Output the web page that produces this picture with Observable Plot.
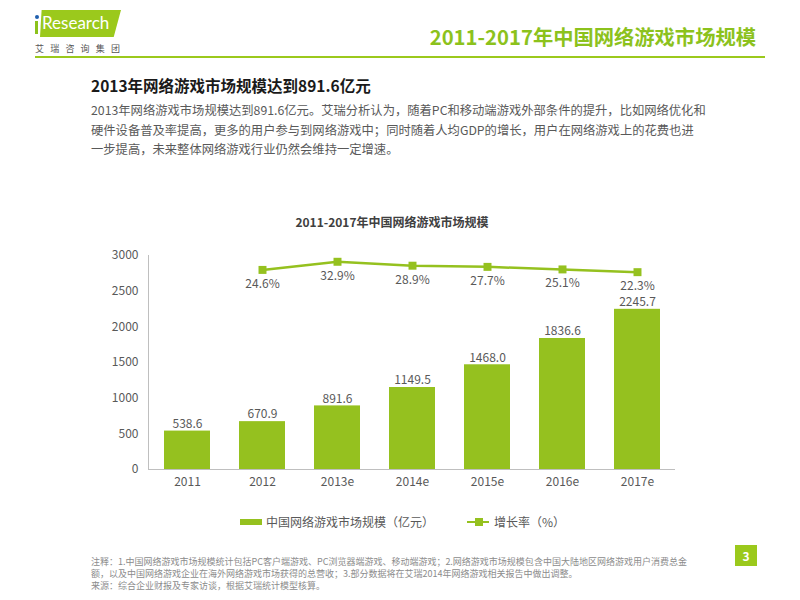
<!DOCTYPE html>
<html><head><meta charset="utf-8">
<script src="https://cdn.jsdelivr.net/npm/d3@7"></script>
<script src="https://cdn.jsdelivr.net/npm/@observablehq/plot@0.6"></script>
<style>
body{margin:0;width:800px;height:600px;position:relative;background:#fff;font-family:"Noto Sans CJK SC","Noto Sans",sans-serif;overflow:hidden}
.abs{position:absolute;white-space:nowrap}
.fn{position:absolute;left:91px;font-size:9px;color:#8c8c8c;line-height:12px;height:12px;white-space:nowrap}
</style></head><body>
<!-- logo -->
<div class="abs" style="left:40px;top:10px;width:81px;height:27px;background:#9bc91c;clip-path:polygon(2% 0,100% 0,91% 100%,0 100%)"></div>
<div class="abs" style="left:35px;top:21px;width:3px;height:13px;background:#8cc21c"></div>
<div class="abs" style="left:34.5px;top:15px;width:4px;height:4px;border-radius:50%;background:#1f5fae"></div>
<div class="abs" style="left:42px;top:9px;font-family:'Lato','Noto Sans',sans-serif;font-size:17px;color:#fff;line-height:28px">Research</div>
<div class="abs" style="left:35px;top:42px;font-size:9px;color:#555;letter-spacing:6.2px">艾瑞咨询集团</div>
<div class="abs" style="left:35px;top:56px;width:730px;height:2px;background:#9bc91c"></div>
<div class="abs" style="right:44px;top:22px;font-size:20.3px;font-weight:bold;color:#8cc21c;line-height:28px">2011-2017年中国网络游戏市场规模</div>
<!-- heading & paragraph -->
<div class="abs" style="left:91px;top:74px;font-size:15.5px;font-weight:bold;color:#1a1a1a;line-height:22px">2013年网络游戏市场规模达到891.6亿元</div>
<div class="abs" style="left:91px;top:101px;font-size:12.3px;color:#595959;line-height:19.5px">2013年网络游戏市场规模达到891.6亿元。艾瑞分析认为，随着PC和移动端游戏外部条件的提升，比如网络优化和<br>硬件设备普及率提高，更多的用户参与到网络游戏中；同时随着人均GDP的增长，用户在网络游戏上的花费也进<br>一步提高，未来整体网络游戏行业仍然会维持一定增速。</div>
<!-- chart title -->
<div class="abs" style="left:0;width:784px;top:212px;text-align:center;font-size:12px;font-weight:bold;color:#404040;line-height:20px">2011-2017年中国网络游戏市场规模</div>
<div id="chart" class="abs" style="left:0;top:240px;width:800px;height:255px"></div>
<!-- legend -->
<div class="abs" style="left:240px;top:519px;width:22px;height:6px;background:#95c11f"></div>
<div class="abs" style="left:266px;top:512px;font-size:12px;color:#595959;line-height:20px">中国网络游戏市场规模（亿元）</div>
<div class="abs" style="left:467px;top:521px;width:22px;height:2px;background:#95c11f"></div>
<div class="abs" style="left:475px;top:518px;width:8px;height:8px;background:#95c11f"></div>
<div class="abs" style="left:494px;top:512px;font-size:12px;color:#595959;line-height:20px">增长率（%）</div>
<!-- footer -->
<div class="fn" style="top:556px">注释：1.中国网络游戏市场规模统计包括PC客户端游戏、PC浏览器端游戏、移动端游戏；2.网络游戏市场规模包含中国大陆地区网络游戏用户消费总金</div>
<div class="fn" style="top:568px">额，以及中国网络游戏企业在海外网络游戏市场获得的总营收；3.部分数据将在艾瑞2014年网络游戏相关报告中做出调整。</div>
<div class="fn" style="top:580px">来源：综合企业财报及专家访谈，根据艾瑞统计模型核算。</div>
<div class="abs" style="left:735px;top:545px;width:22px;height:21px;background:#9bc91c;color:#fff;font-weight:bold;font-size:12px;text-align:center;line-height:21px">3</div>
<script>
const years = ["2011","2012","2013e","2014e","2015e","2016e","2017e"];
const marketSize = [538.6,670.9,891.6,1149.5,1468.0,1836.6,2245.7];
const growthYears = ["2012","2013e","2014e","2015e","2016e","2017e"];
const growthRate = [24.6,32.9,28.9,27.7,25.1,22.3];
const yTicks = [0,500,1000,1500,2000,2500,3000];

const bars = years.map((y,i)=>({year:y, value:marketSize[i]}));
const growth = growthYears.map((y,i)=>({year:y, rate:growthRate[i]}));
const GREEN = "#95c11f";
const FONT = '"Noto Sans CJK SC","Noto Sans",sans-serif';
const dims = {width:800,height:255,marginTop:15,marginBottom:26,marginLeft:148,marginRight:125};
const xOpt = {domain:years, paddingInner:0.39, paddingOuter:0.195, label:null, tickSize:0, tickPadding:8};

const main = Plot.plot({
  ...dims,
  style:{fontFamily:FONT,fontSize:"12px",color:"#595959",background:"transparent",overflow:"visible"},
  x:xOpt,
  y:{domain:[0,3000], ticks:yTicks, label:null, tickSize:0, tickPadding:10, tickFormat:d=>String(d)},
  marks:[
    Plot.barY(bars,{x:"year",y:"value",fill:GREEN}),
    Plot.text(bars,{x:"year",y:"value",text:d=>d.value.toFixed(1),dy:-7,fill:"#595959",fontSize:12}),
    Plot.ruleY([0],{stroke:"#bfbfbf"}),
    Plot.frame({anchor:"left",stroke:"#bfbfbf"})
  ]
});
const sec = Plot.plot({
  ...dims,
  style:{fontFamily:FONT,fontSize:"12px",color:"#595959",background:"transparent",overflow:"visible"},
  x:{...xOpt, axis:null},
  y:{domain:[-179,39.3], axis:null},
  marks:[
    Plot.line(growth,{x:"year",y:"rate",stroke:GREEN,strokeWidth:2.5}),
    Plot.dot(growth,{x:"year",y:"rate",symbol:"square",r:4.5,fill:GREEN,stroke:null}),
    Plot.text(growth,{x:"year",y:"rate",text:d=>d.rate.toFixed(1)+"%",dy:14,fill:"#595959",fontSize:12})
  ]
});
for (const s of [main,sec]) { s.style.position="absolute"; s.style.left="0"; s.style.top="0"; }
document.getElementById("chart").append(main, sec);
</script>
</body></html>
